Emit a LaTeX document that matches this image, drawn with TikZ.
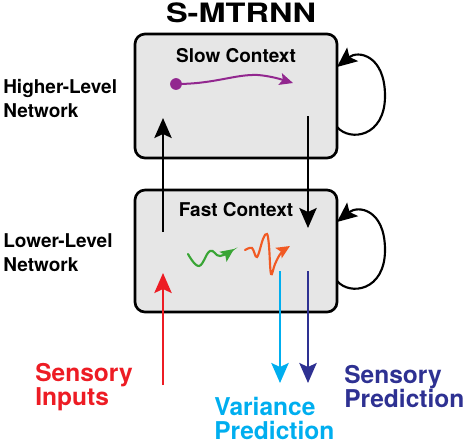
\documentclass[tikz,border=0pt]{standalone}
\usepackage{fontspec}
\usepackage{graphicx}
\setmainfont{TeX Gyre Heros}
\usetikzlibrary{arrows.meta}
\definecolor{boxgray}{RGB}{230,230,230}
\definecolor{sred}{RGB}{237,28,36}
\definecolor{scyan}{RGB}{0,174,239}
\definecolor{snavy}{RGB}{46,49,146}
\definecolor{spurple}{RGB}{146,39,143}
\definecolor{sgreen}{RGB}{57,165,53}
\definecolor{sorange}{RGB}{241,90,36}
\tikzset{
  ctxbox/.style={draw=black, fill=boxgray, line width=2pt, rounded corners=7.5pt, inner sep=0pt},
  bigarr/.style={line width=1.6pt, -{Stealth[length=15pt,width=13pt,inset=3pt]}},
  smallarr/.style={line width=1.6pt, line cap=round, -{Stealth[length=10pt,width=9pt,inset=2pt]}},
  sidelab/.style={font=\fontsize{14.25}{18}\selectfont\bfseries, align=left, inner sep=0pt},
  ctxlab/.style={font=\fontsize{14.25}{18}\selectfont\bfseries, inner sep=0pt},
  iolab/.style={font=\fontsize{18.4}{18}\selectfont\bfseries, align=left, inner sep=0pt},
}
\begin{document}
\begin{tikzpicture}[x=0.75pt,y=-0.75pt]
\useasboundingbox (0,0) rectangle (466,444);

% title
\node[font=\fontsize{20}{24}\selectfont\bfseries, anchor=base, inner sep=0pt] (title) at (241,22) {\scalebox{1.22}[1]{S-MTRNN}};

% boxes
\node[ctxbox, minimum width=151.5pt, minimum height=93pt] (slow) at (236,96) {};
\node[ctxbox, minimum width=151.5pt, minimum height=91.5pt] (fast) at (236,251) {};

\node[ctxlab, anchor=base] (slowlab) at (236,62) {Slow Context};
\node[ctxlab, anchor=base] (fastlab) at (236,216) {Fast Context};

% side labels (anchor = baseline of last line)
\node[sidelab, anchor=base west] (hl) at (3,117) {Higher-Level\\Network};
\node[sidelab, anchor=base west] (ll) at (3,271) {Lower-Level\\Network};

% self loops
\coordinate (sl1) at (337,127);
\coordinate (sl2) at (337,67);
\draw[bigarr] (sl1) .. controls (350,142) and (385,137) .. (385,96) .. controls (385,55) and (358,50) .. (sl2);
\coordinate (fl1) at (337,281);
\coordinate (fl2) at (337,222);
\draw[bigarr] (fl1) .. controls (350,296) and (385,291) .. (385,250) .. controls (385,209) and (358,205) .. (fl2);

% between levels
\coordinate (up1) at (163,232);
\coordinate (up2) at (163,118);
\draw[bigarr] (up1) -- (up2);
\coordinate (dn1) at (308,116);
\coordinate (dn2) at (308,228);
\draw[bigarr] (dn1) -- (dn2);

% input / outputs
\coordinate (in1) at (163,385);
\coordinate (in2) at (163,273);
\draw[bigarr, sred] (in1) -- (in2);
\coordinate (va1) at (280,271);
\coordinate (va2) at (280,383);
\draw[bigarr, scyan] (va1) -- (va2);
\coordinate (sp1) at (308,271);
\coordinate (sp2) at (308,383);
\draw[bigarr, snavy] (sp1) -- (sp2);

% slow trajectory
\coordinate (pdot) at (176,84);
\coordinate (pend) at (293,83);
\fill[spurple] (pdot) circle[radius=4.4pt];
\draw[smallarr, spurple, line width=1.5pt] (pdot) .. controls (215,84) and (235,74) .. (258,75) .. controls (270,76) and (280,79) .. (pend);

% fast waves
\draw[smallarr, sgreen] plot[smooth, tension=0.7] coordinates {(188,254) (199,266) (210,251) (220,256) (234,249)};
\draw[smallarr, sorange] plot[smooth, tension=0.6] coordinates {(245,250) (252,248) (257,257) (263,239) (267,234) (269,246) (271,274) (275,264) (281,253) (290,246)};

% io labels (anchor = baseline of last line)
\node[iolab, anchor=base west, sred] (sinp) at (35,405) {Sensory\\Inputs};
\node[iolab, anchor=base west, scyan] (vpred) at (214,439.5) {Variance\\Prediction};
\node[iolab, anchor=base west, snavy] (spred) at (344,407) {Sensory\\Prediction};
\end{tikzpicture}
\end{document}
